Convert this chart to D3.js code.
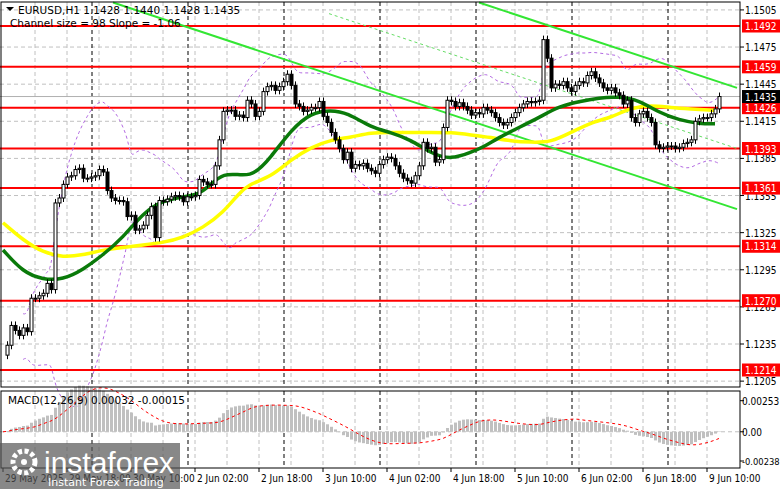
<!DOCTYPE html>
<html><head><meta charset="utf-8">
<script src="https://cdn.jsdelivr.net/npm/d3@7"></script>
<style>body{margin:0;background:#fff}svg{display:block;font-family:Tahoma,"DejaVu Sans",sans-serif}</style>
</head><body><svg id="c" width="781" height="489"></svg>
<script>
const closes=[1.1226,1.1234,1.1250,1.1246,1.1242,1.1248,1.1245,1.1272,1.1272,1.1274,
1.1276,1.1284,1.1279,1.1349,1.1353,1.1364,1.1370,1.1371,1.1376,1.1377,
1.1369,1.1369,1.1370,1.1371,1.1376,1.1374,1.1359,1.1353,1.1351,1.1351,
1.1350,1.1338,1.1339,1.1327,1.1328,1.1331,1.1339,1.1346,1.1321,1.1351,
1.1350,1.1352,1.1354,1.1355,1.1354,1.1350,1.1354,1.1354,1.1355,1.1368,
1.1366,1.1364,1.1364,1.1379,1.1400,1.1423,1.1424,1.1424,1.1419,1.1420,
1.1418,1.1432,1.1429,1.1419,1.1423,1.1439,1.1443,1.1444,1.1440,1.1443,
1.1447,1.1453,1.1444,1.1429,1.1427,1.1423,1.1424,1.1426,1.1426,1.1431,
1.1419,1.1414,1.1406,1.1400,1.1393,1.1384,1.1390,1.1377,1.1380,1.1379,
1.1381,1.1377,1.1375,1.1373,1.1380,1.1384,1.1386,1.1385,1.1379,1.1373,
1.1369,1.1367,1.1365,1.1371,1.1379,1.1398,1.1393,1.1394,1.1382,1.1384,
1.1410,1.1432,1.1431,1.1427,1.1430,1.1427,1.1424,1.1420,1.1422,1.1421,
1.1426,1.1424,1.1422,1.1418,1.1414,1.1412,1.1414,1.1418,1.1422,1.1426,
1.1429,1.1431,1.1430,1.1431,1.1432,1.1481,1.1466,1.1442,1.1445,1.1444,
1.1447,1.1442,1.1439,1.1444,1.1447,1.1446,1.1452,1.1455,1.1450,1.1446,
1.1442,1.1440,1.1442,1.1438,1.1436,1.1429,1.1432,1.1418,1.1414,1.1421,
1.1423,1.1418,1.1414,1.1396,1.1393,1.1394,1.1395,1.1395,1.1393,1.1394,
1.1397,1.1398,1.1400,1.1415,1.1417,1.1418,1.1418,1.1421,1.1425,1.1435];
const greenMA=[[0,1.1311],[5,1.1293],[10,1.1287],[15,1.1287],[20,1.1295],[25,1.1307],[30,1.1321],[35,1.1341],[40,1.1351],[45,1.1354],[50,1.1356],[55,1.1376],[62,1.1368],[67,1.1386],[72,1.1408],[77,1.1422],[82,1.1424],[86,1.1422],[92,1.1410],[97,1.1406],[102,1.1400],[107,1.1389],[112,1.1384],[117,1.1390],[120,1.1394],[124,1.1402],[129,1.1410],[134,1.1418],[139,1.1427],[144,1.1431],[149,1.1434],[154,1.1435],[159,1.1432],[164,1.1422],[169,1.1416],[174,1.1413],[178,1.1413]];
const yellowMA=[[0,1.1333],[5,1.1319],[10,1.1309],[15,1.1305],[20,1.1307],[25,1.1311],[30,1.1313],[35,1.1315],[40,1.1317],[45,1.1321],[50,1.1329],[55,1.1341],[59,1.1357],[62,1.1365],[67,1.1370],[72,1.1384],[77,1.1394],[82,1.1400],[87,1.1402],[92,1.1406],[97,1.1406],[102,1.1406],[107,1.1406],[112,1.1406],[117,1.1404],[122,1.1402],[127,1.1399],[132,1.1398],[137,1.1398],[142,1.1406],[147,1.1414],[152,1.1418],[157,1.1426],[162,1.1428],[167,1.1426],[172,1.1425],[177,1.1424],[178,1.1424]];
const levels=[1.1492,1.1459,1.1426,1.1393,1.1361,1.1314,1.1270,1.1214];
const priceTicks=[1.1505,1.1475,1.1445,1.1415,1.1385,1.1355,1.1325,1.1295,1.1265,1.1235,1.1205];
const timeLabels=[[0,"29 May 2025"],[16,"29 May 18:00"],[32,"30 May 10:00"],[48,"2 Jun 02:00"],[64,"2 Jun 18:00"],[80,"3 Jun 10:00"],[96,"4 Jun 02:00"],[112,"4 Jun 18:00"],[128,"5 Jun 10:00"],[144,"6 Jun 02:00"],[160,"6 Jun 18:00"],[176,"9 Jun 10:00"]];
const dayBreaks=[22,46,70,94,118,142,166];
const macdTicks=[0.00253,0.00,-0.00238];
const channelLines=[[[27.5,1.1511],[183.5,1.1344]],[[119,1.1511],[183.5,1.1442]]];
const channelMid=[[81.5,1.1502],[183.5,1.1393]];

const svg=d3.select("#c");
const X0=3,L=0,R=740,T=2,B=387,MT=391,MB=468;
const x=d3.scaleLinear().domain([0,1]).range([X0,X0+4.0]);
const y=d3.scaleLinear().domain([1.1492,1.1214]).range([26,370]);
const g=svg.append("g");
g.selectAll(".hg").data(priceTicks).join("line").attr("x1",L).attr("x2",R).attr("y1",d=>y(d)).attr("y2",d=>y(d)).attr("stroke","#c0c0c0").attr("stroke-dasharray","4,3");
const vgrid=d3.range(8,182,8);
[[T,B],[MT,MB]].forEach(([a,b])=>{
 g.selectAll(null).data(vgrid).join("line").attr("x1",d=>x(d)).attr("x2",d=>x(d)).attr("y1",a).attr("y2",b).attr("stroke","#c0c0c0").attr("stroke-dasharray","4,3");
 g.selectAll(null).data(dayBreaks).join("line").attr("x1",d=>x(d)+1).attr("x2",d=>x(d)+1).attr("y1",a).attr("y2",b).attr("stroke","#000").attr("stroke-dasharray","4,3");
});
g.append("line").attr("x1",L).attr("x2",R).attr("y1",y(1.1435)).attr("y2",y(1.1435)).attr("stroke","#b0b0b0");
g.selectAll(".lv").data(levels).join("line").attr("x1",L).attr("x2",R).attr("y1",d=>y(d)).attr("y2",d=>y(d)).attr("stroke","#ff0000").attr("stroke-width",2);
const bu=[],bl=[];
closes.forEach((c,i)=>{const w=closes.slice(Math.max(0,i-19),i+1);const m=d3.mean(w),s=d3.deviation(w)||0;bu.push([i,m+2*s]);bl.push([i,m-2*s]);});
const ln=d3.line().x(d=>x(d[0])).y(d=>y(d[1]));
const lnS=d3.line().x(d=>x(d[0])).y(d=>y(d[1])).curve(d3.curveBasis);
[bu,bl].forEach(a=>g.append("path").attr("d",lnS(a.slice(5))).attr("fill","none").attr("stroke","#b36ae2").attr("stroke-dasharray","3,3"));
channelLines.forEach(a=>g.append("path").attr("d",ln(a)).attr("stroke","#33e633").attr("stroke-width",2));
g.append("path").attr("d",ln(channelMid)).attr("stroke","#66dd66").attr("stroke-dasharray","3,3");
g.append("path").attr("d",lnS(yellowMA)).attr("fill","none").attr("stroke","#ffff00").attr("stroke-width",3.5);
g.append("path").attr("d",lnS(greenMA)).attr("fill","none").attr("stroke","#0a7a0a").attr("stroke-width",3.5);
const cg=svg.append("g");
closes.forEach((c,i)=>{
 if(i===0)return;
 const o=closes[i-1],hi=Math.max(o,c),lo=Math.min(o,c);
 const cx=Math.round(x(i))+0.5;
 cg.append("line").attr("x1",cx).attr("x2",cx).attr("y1",y(hi)-4).attr("y2",y(lo)+4).attr("stroke","#000");
 cg.append("rect").attr("x",cx-1.5).attr("width",3).attr("y",y(hi)).attr("height",Math.max(1,y(lo)-y(hi))).attr("fill",c>=o?"#fff":"#000").attr("stroke","#000");
});
const ema=(a,n)=>{const k=2/(n+1);let e=a[0];return a.map(v=>e=v*k+e*(1-k));};
const e12=ema(closes,12),e26=ema(closes,26);
const macd=closes.map((c,i)=>e12[i]-e26[i]);
const sig=macd.map((m,i)=>d3.mean(macd.slice(Math.max(0,i-8),i+1)));
const my=d3.scaleLinear().domain([0.00253,-0.00238]).range([400.7,461]);
svg.append("g").selectAll("rect").data(macd).join("rect").attr("x",(d,i)=>Math.round(x(i))-1).attr("width",3)
 .attr("y",d=>Math.min(my(d),my(0))).attr("height",d=>Math.abs(my(d)-my(0))).attr("fill","#c0c0c0");
svg.append("line").attr("x1",L).attr("x2",R).attr("y1",my(0)).attr("y2",my(0)).attr("stroke","#c0c0c0").attr("stroke-dasharray","4,3");
svg.append("path").attr("d",d3.line().x((d,i)=>x(i)).y(d=>my(d))(sig)).attr("fill","none").attr("stroke","#ff0000").attr("stroke-dasharray","3,3");
svg.append("rect").attr("x",1).attr("y",T).attr("width",R-1).attr("height",B-T).attr("fill","none").attr("stroke","#000");
svg.append("rect").attr("x",1).attr("y",MT).attr("width",R-1).attr("height",MB-MT).attr("fill","none").attr("stroke","#000");
const ax=svg.append("g").attr("font-size",10).attr("font-family","'DejaVu Sans Condensed','Liberation Sans',sans-serif");
priceTicks.forEach(p=>{ax.append("line").attr("x1",R).attr("x2",R+4).attr("y1",y(p)).attr("y2",y(p)).attr("stroke","#000");
 ax.append("text").attr("x",745).attr("y",y(p)+4).text(p.toFixed(4));});
levels.forEach(p=>{ax.append("rect").attr("x",742).attr("y",y(p)-6.5).attr("width",38).attr("height",13).attr("fill","#ff0000");
 ax.append("text").attr("x",745).attr("y",y(p)+4).attr("fill","#fff").text(p.toFixed(4));});
ax.append("rect").attr("x",742).attr("y",y(1.1435)-6.5).attr("width",38).attr("height",13).attr("fill","#000");
ax.append("text").attr("x",745).attr("y",y(1.1435)+4).attr("fill","#fff").text("1.1435");
macdTicks.forEach(v=>{ax.append("line").attr("x1",R).attr("x2",R+4).attr("y1",my(v)).attr("y2",my(v)).attr("stroke","#000");
 ax.append("text").attr("x",742).attr("y",my(v)+4).attr("font-size",v<0?9.3:10).text(v===0?"0.00":v.toFixed(5));});
timeLabels.forEach(([i,t])=>{ax.append("line").attr("x1",x(i)).attr("x2",x(i)).attr("y1",MB).attr("y2",MB+4).attr("stroke","#000");
 ax.append("text").attr("x",x(i)+2).attr("y",482).text(t);});
const tt=svg.append("g").attr("font-size",10.5);
tt.append("path").attr("d","M6,7 L14,7 L10,11 Z").attr("fill","#000");
tt.append("text").attr("x",18).attr("y",14).text("EURUSD,H1  1.1428 1.1440 1.1428 1.1435");
tt.append("text").attr("x",10).attr("y",27).text("Channel size = 98 Slope = -1.06");
tt.append("text").attr("x",8).attr("y",404).text("MACD(12,26,9) 0.00032 -0.00015");
const lg=svg.append("g");
lg.append("rect").attr("x",0).attr("y",443).attr("width",180).attr("height",46).attr("fill","#555").attr("opacity",0.7);
lg.append("circle").attr("cx",24).attr("cy",462).attr("r",11).attr("fill","none").attr("stroke","#fff").attr("stroke-width",5).attr("stroke-dasharray","4,2.5");
lg.append("circle").attr("cx",24).attr("cy",462).attr("r",3).attr("fill","#fff");
lg.append("text").attr("x",44).attr("y",473).attr("font-size",30).attr("fill","#fff").attr("font-family","Arial,'Liberation Sans',sans-serif").text("instaforex");
lg.append("text").attr("x",48).attr("y",486).attr("font-size",11).attr("fill","#fff").text("Instant Forex Trading");
</script></body></html>
